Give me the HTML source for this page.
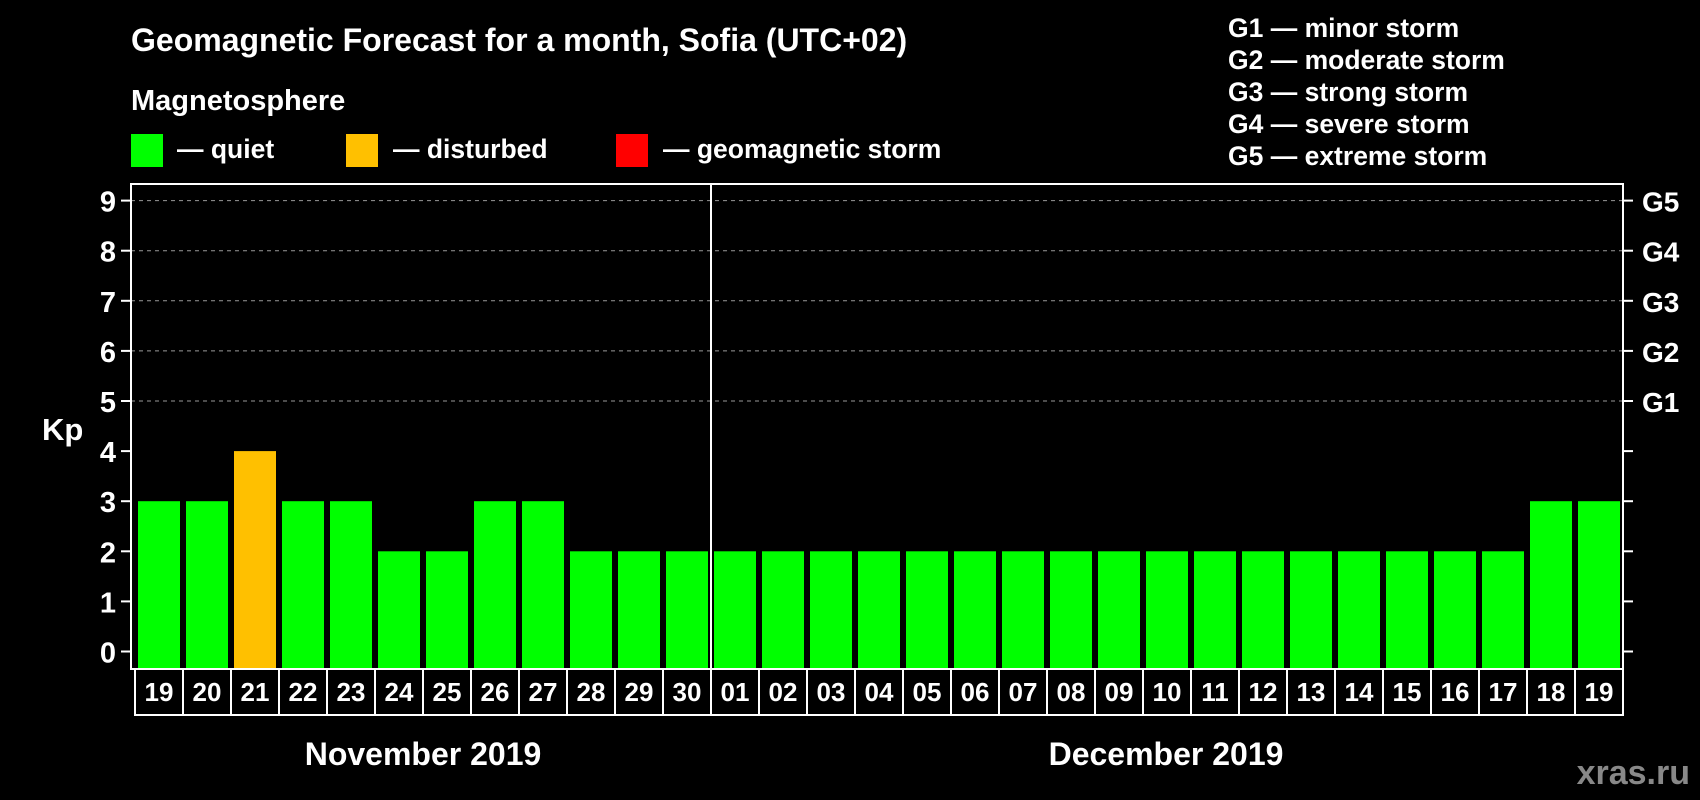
<!DOCTYPE html>
<html><head><meta charset="utf-8"><style>
html,body{margin:0;padding:0;background:#000;}
svg{display:block;font-family:"Liberation Sans",Arial,sans-serif;font-weight:bold;}
</style></head><body>
<svg id="chart" width="1700" height="800" viewBox="0 0 1700 800" xmlns="http://www.w3.org/2000/svg">
<rect width="1700" height="800" fill="#000"/>
<text x="131" y="51" font-size="32" fill="#fff">Geomagnetic Forecast for a month, Sofia (UTC+02)</text>
<text x="131" y="110" font-size="29" fill="#fff">Magnetosphere</text>
<g>
<rect x="131" y="134" width="32" height="33" fill="#00ff00"/>
<text x="177" y="158" font-size="26.5" fill="#fff">— quiet</text>
<rect x="346" y="134" width="32" height="33" fill="#ffc000"/>
<text x="393" y="158" font-size="26.5" fill="#fff">— disturbed</text>
<rect x="616" y="134" width="32" height="33" fill="#ff0000"/>
<text x="663" y="158" font-size="26.5" fill="#fff">— geomagnetic storm</text>
</g>
<g font-size="26.5" fill="#fff">
<text x="1228" y="37">G1 — minor storm</text>
<text x="1228" y="69">G2 — moderate storm</text>
<text x="1228" y="101">G3 — strong storm</text>
<text x="1228" y="133">G4 — severe storm</text>
<text x="1228" y="165">G5 — extreme storm</text>
</g>
<text x="42" y="440" font-size="31" fill="#fff">Kp</text>
<g id="plot"></g>
<text x="423" y="765" font-size="32" fill="#fff" text-anchor="middle">November 2019</text>
<text x="1166" y="765" font-size="32" fill="#fff" text-anchor="middle">December 2019</text>
<text x="1690" y="784" font-size="34" fill="#888" text-anchor="end">xras.ru</text>
</svg>
<script>
const days = ["19","20","21","22","23","24","25","26","27","28","29","30","01","02","03","04","05","06","07","08","09","10","11","12","13","14","15","16","17","18","19"];
const kp = [3,3,4,3,3,2,2,3,3,2,2,2,2,2,2,2,2,2,2,2,2,2,2,2,2,2,2,2,2,3,3];
const yTicks = ["0","1","2","3","4","5","6","7","8","9"];
const gLabels = ["G1","G2","G3","G4","G5"];
const monthStartIndex = 12;

const NS = "http://www.w3.org/2000/svg";
const g = document.getElementById('plot');
const L = 131, R = 1623, T = 184, B = 669;
const x0 = 138, step = 48, bw = 42;
const yz = 651.5, unit = 50.1;
const xs = i => x0 + i * step;
const ys = v => yz - v * unit;
function mk(tag, attrs){const e=document.createElementNS(NS,tag);for(const k in attrs)e.setAttribute(k,attrs[k]);g.appendChild(e);return e;}

yTicks.forEach((t,i)=>{
  const v=+t, y=ys(v);
  if(v>=5){
    const gl=mk('line',{x1:L,x2:R,y1:y,y2:y,stroke:'#999','stroke-width':1,'stroke-dasharray':'4 4'});
    
    
  }
  const tk=mk('line',{x1:L-10,x2:L,y1:y,y2:y,stroke:'#fff','stroke-width':2});
  
  
  const tr=mk('line',{x1:R,x2:R+10,y1:y,y2:y,stroke:'#fff','stroke-width':2});
  
  
  const tl=mk('text',{x:L-15,y:y+11,'font-size':29,fill:'#fff','text-anchor':'end'});
  tl.textContent=t;
  
  
});
gLabels.forEach((t,i)=>{
  const el=mk('text',{x:R+19,y:ys(5+i)+11,'font-size':28,fill:'#fff'});
  el.textContent=t;
  
  
});
kp.forEach((v,i)=>{
  const col = v>=5?'#ff0000':(v>=4?'#ffc000':'#00ff00');
  const r=mk('rect',{x:xs(i),y:ys(v),width:bw,height:B-ys(v),fill:col});
  
  
  const bx=mk('rect',{x:xs(i)-3,y:B,width:step,height:46,fill:'none',stroke:'#fff','stroke-width':2});
  
  
  const tx=mk('text',{x:xs(i)+bw/2,y:B+32,'font-size':26,fill:'#fff','text-anchor':'middle'});
  tx.textContent=days[i];
  
  
});
const dv=mk('line',{x1:xs(monthStartIndex)-3,x2:xs(monthStartIndex)-3,y1:T,y2:B,stroke:'#fff','stroke-width':2});


const fr=mk('rect',{x:L,y:T,width:R-L,height:B-T,fill:'none',stroke:'#fff','stroke-width':2});


</script>
</body></html>
